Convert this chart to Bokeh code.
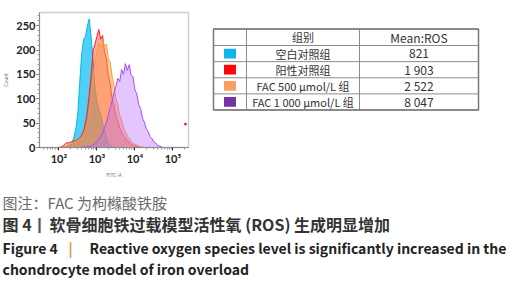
import numpy as np
from bokeh.plotting import figure
from bokeh.layouts import column, row
from bokeh.models import FixedTicker, SingleIntervalTicker, Range1d
from bokeh.core.properties import value
from bokeh.embed import file_html
from bokeh.resources import INLINE

# ---------------- data ----------------
BIN_START = 2.0      # log10(FITC-A) of first bin
BIN_STEP = 0.05
BLANK = [0, 0, 0, 1, 2, 3, 5, 10, 22, 40, 72, 135, 192, 222, 228, 250, 264, 225, 178, 122,
         96, 80, 66, 50, 34, 20, 10, 5, 2, 1, 0, 0, 0, 0, 0, 0, 0, 0, 0, 0,
         0, 0, 0, 0, 0, 0, 0, 0, 0, 0, 0, 0, 0, 0, 0, 0, 0]
POSITIVE = [0, 1, 3, 6, 10, 9, 11, 12, 13, 15, 17, 20, 26, 35, 50, 75, 110, 150, 200, 212,
            228, 242, 222, 230, 196, 182, 148, 132, 100, 86, 64, 54, 40, 33, 24, 20, 13, 11, 6, 5,
            3, 2, 1, 0, 0, 0, 0, 0, 0, 0, 0, 0, 0, 0, 0, 0, 0]
FAC500 = [0, 0, 1, 2, 3, 5, 7, 9, 11, 13, 15, 18, 22, 28, 36, 50, 72, 105, 145, 178,
          196, 215, 205, 222, 208, 212, 182, 175, 146, 128, 100, 88, 66, 56, 40, 33, 23, 19, 12, 10,
          6, 5, 3, 2, 1, 0, 0, 0, 0, 0, 0, 0, 0, 0, 0, 0, 0]
FAC1000 = [0, 0, 0, 0, 0, 0, 0, 0, 0, 0, 0, 0, 1, 1, 1, 2, 2, 3, 5, 8,
           12, 17, 23, 30, 40, 52, 66, 82, 95, 112, 125, 142, 135, 160, 150, 172, 158, 170, 148, 145,
           118, 110, 88, 80, 60, 52, 38, 33, 22, 18, 11, 9, 4, 3, 1, 0, 0]
OUTLIER_LOG = [5.33]
OUTLIER_COUNT = [48]

X_TICKS = [2, 3, 4, 5]
X_TICK_LABELS = ["10\u00b2", "10\u00b3", "10\u2074", "10\u2075"]

HEADER = ["组别", "Mean:ROS"]
GROUPS = ["空白对照组", "阳性对照组", "FAC 500 μmol/L 组", "FAC 1 000 μmol/L 组"]
MEANS = ["821", "1 903", "2 522", "8 047"]
SWATCH_COLORS = ["#12B4EE", "#F80808", "#F9A05E", "#7434A8"]

CAPTION_1 = "图注：FAC 为枸橼酸铁胺"
CAPTION_2A = "图 4"
CAPTION_2B = "丨"
CAPTION_2C = "软骨细胞铁过载模型活性氧 (ROS) 生成明显增加"
CAPTION_3A = "Figure 4"
CAPTION_3B = "|"
CAPTION_3C = "Reactive oxygen species level is significantly increased in the"
CAPTION_4 = "chondrocyte model of iron overload"

# ---------------- histogram ----------------
X_MIN, X_MAX = 1.49, 5.41
bins = [BIN_START + BIN_STEP * i for i in range(len(BLANK))]

hist = figure(width=210, height=180, output_backend="svg", toolbar_location=None,
              x_range=Range1d(X_MIN, X_MAX), y_range=Range1d(0, 277),
              min_border_left=35, min_border_right=22, min_border_top=12, min_border_bottom=25)
hist.grid.visible = False
hist.outline_line_color = "#cfcfcf"
hist.outline_line_width = 1.5

series = [
    (BLANK, "#00B8F0", "#30C8F5", 0.85),
    (POSITIVE, "#FF2020", "#FF4040", 0.45),
    (FAC500, "#FF9A30", "#FF9A40", 0.5),
    (FAC1000, "#A64DFF", "#B870FF", 0.4),
]
for vals, lc, fc, fa in series:
    xs = [X_MIN] + bins + [X_MAX]
    ys = [0] + list(vals) + [0]
    hist.varea(x=xs, y1=0, y2=ys, fill_color=fc, fill_alpha=fa)
    hist.line(x=xs, y=ys, line_color=lc, line_width=1)
hist.scatter(x=OUTLIER_LOG, y=OUTLIER_COUNT, size=2, color="#FF2020")

minor = [float(np.log10(k * 10.0 ** d)) for d in range(1, 6) for k in range(2, 10)]
minor = [m for m in minor if X_MIN <= m <= X_MAX]
hist.xaxis.ticker = FixedTicker(ticks=X_TICKS, minor_ticks=minor)
hist.xaxis.major_label_overrides = {t: l for t, l in zip(X_TICKS, X_TICK_LABELS)}
hist.yaxis.ticker = SingleIntervalTicker(interval=50, num_minor_ticks=5)

for ax in (hist.xaxis, hist.yaxis):
    ax.axis_line_color = "#8a8a8a"
    ax.major_tick_line_color = "#333333"
    ax.minor_tick_line_color = "#9a9a9a"
    ax.major_tick_out = 3
    ax.major_tick_in = 0
    ax.minor_tick_out = 2
    ax.minor_tick_in = 0
    ax.major_label_text_font = "Lato"
    ax.major_label_text_font_style = "bold"
    ax.major_label_text_font_size = "11px"
    ax.major_label_text_color = "#222222"
    ax.major_label_standoff = 1
    ax.axis_label_text_font = "Lato"
    ax.axis_label_text_font_size = "5px"
    ax.axis_label_text_font_style = "normal"
    ax.axis_label_text_color = "#777777"
    ax.axis_label_standoff = 4
hist.xaxis.axis_label = "FITC-A"
hist.yaxis.axis_label = "Count"

# ---------------- table ----------------
TW, TH = 290, 180
tab = figure(width=TW, height=TH, output_backend="svg", toolbar_location=None,
             x_range=Range1d(0, TW), y_range=Range1d(TH, 0), min_border=0)
tab.axis.visible = False
tab.grid.visible = False
tab.outline_line_color = None

col_x = [3, 36, 149, 268]
row_top = 22
header_h = 22
row_h = 21.5
row_y = [row_top, row_top + header_h] + [row_top + header_h + row_h * (i + 1) for i in range(len(GROUPS))]

tab.segment(x0=[col_x[0]] * len(row_y), y0=row_y, x1=[col_x[-1]] * len(row_y), y1=row_y,
            line_color="#8c8c8c", line_width=1)
tab.segment(x0=col_x, y0=[row_y[0]] * 4, x1=col_x, y1=[row_y[-1]] * 4,
            line_color="#8c8c8c", line_width=1)
tab.rect(x=[(col_x[0] + col_x[-1]) / 2], y=[(row_y[0] + row_y[-1]) / 2],
         width=col_x[-1] - col_x[0], height=row_y[-1] - row_y[0],
         fill_color=None, line_color="#777777", line_width=1.5)

cx = [(col_x[i] + col_x[i + 1]) / 2 for i in range(3)]
hy = (row_y[0] + row_y[1]) / 2
cy = [(row_y[i + 1] + row_y[i + 2]) / 2 for i in range(len(GROUPS))]

tab.text(x=[cx[1]], y=[hy], text=[HEADER[0]], text_font=value("Noto Sans CJK SC"),
         text_font_size=value("11px"), text_align="center", text_baseline="middle", text_color="#333333")
tab.text(x=[cx[2]], y=[hy], text=[HEADER[1]], text_font=value("Noto Sans CJK SC"),
         text_font_size=value("12px"), text_align="center", text_baseline="middle", text_color="#333333")
tab.rect(x=[cx[0]] * len(GROUPS), y=cy, width=12, height=13, fill_color=SWATCH_COLORS, line_color=None)
tab.text(x=[cx[1]] * len(GROUPS), y=cy, text=GROUPS, text_font=value("Noto Sans CJK SC"),
         text_font_size=value("11px"), text_align="center", text_baseline="middle", text_color="#333333")
tab.text(x=[cx[2]] * len(GROUPS), y=cy, text=MEANS, text_font=value("Noto Sans CJK SC"),
         text_font_size=value("12px"), text_align="center", text_baseline="middle", text_color="#333333")

# ---------------- caption ----------------
CW, CH = 511, 104
cap = figure(width=CW, height=CH, output_backend="svg", toolbar_location=None,
             x_range=Range1d(0, CW), y_range=Range1d(CH, 0), min_border=0)
cap.axis.visible = False
cap.grid.visible = False
cap.outline_line_color = None

def put(x, y, s, font, size, color, style="normal", align="left"):
    cap.text(x=[x], y=[y], text=[s], text_font=value(font), text_font_size=value(size),
             text_font_style=style, text_color=color, text_align=align, text_baseline="middle")

put(2, 22, CAPTION_1, "Noto Sans CJK SC", "15px", "#6a6a6a")
put(2, 43, CAPTION_2A, "Noto Sans CJK SC", "16px", "#333333", "bold")
put(39, 43, CAPTION_2B, "Noto Sans CJK SC", "16px", "#555555", "bold", "center")
put(49, 43, CAPTION_2C, "Noto Sans CJK SC", "16px", "#333333", "bold")
put(2, 67, CAPTION_3A, "Noto Sans CJK SC", "14px", "#222222", "bold")
put(70, 67, CAPTION_3B, "Noto Sans CJK SC", "14px", "#E0902A", "bold", "center")
put(89, 67, CAPTION_3C, "Noto Sans CJK SC", "14px", "#222222", "bold")
put(2, 88, CAPTION_4, "Noto Sans CJK SC", "14px", "#222222", "bold")

page = column(row(hist, tab), cap)
open("out.html", "w").write(file_html(page, INLINE))
